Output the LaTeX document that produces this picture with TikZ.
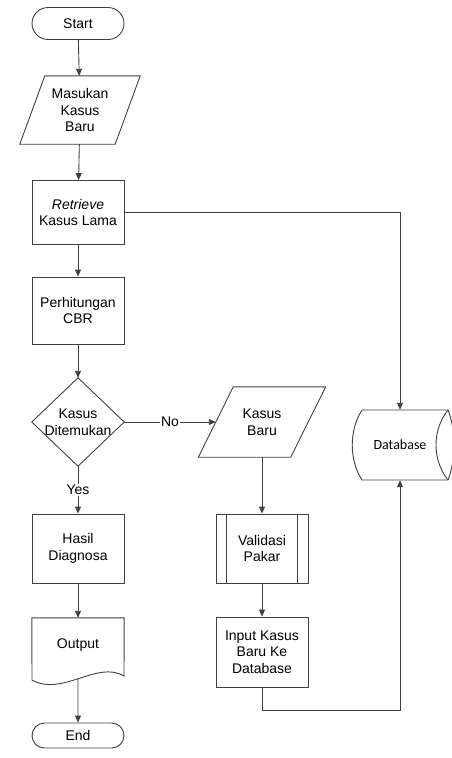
\documentclass[tikz,border=0pt]{standalone}
\usepackage{fontspec}
\setmainfont{Liberation Sans}
\newfontfamily\dbfont{Carlito}
\usetikzlibrary{shapes.misc,arrows.meta}
\definecolor{ln}{HTML}{404040}
\tikzset{
  every node/.style={font=\fontsize{14}{16.5}\selectfont, text=black},
  box/.style={draw=ln, line width=0.9pt, minimum width=92pt, minimum height=67pt, align=center, inner sep=0pt},
  term/.style={draw=ln, line width=0.9pt, rounded rectangle, minimum width=92pt, inner sep=0pt},
  txt/.style={align=center, inner sep=0pt},
  shp/.style={draw=ln, line width=0.9pt},
  arr/.style={draw=ln, line width=0.9pt, -{Triangle[length=7pt,width=6pt]}},
  lbl/.style={fill=white, inner sep=1pt}
}
\begin{document}
\begin{tikzpicture}[x=1pt,y=1pt]
\useasboundingbox (0,0) rectangle (452,-758);
% left column
\node[term, minimum height=32pt] (start) at (78,-23.5) {Start};
\node[txt, minimum width=95pt, minimum height=68pt] (in1) at (80,-110) {Masukan\\Kasus\\Baru};
\draw[shp] ([xshift=12.5pt]in1.north west) -- ([xshift=12.5pt]in1.north east)
  -- ([xshift=-12.5pt]in1.south east) -- ([xshift=-12.5pt]in1.south west) -- cycle;
\node[box, minimum height=64pt] (ret) at (78,-212.5) {\textit{Retrieve}\\Kasus Lama};
\node[box, minimum height=67pt] (cbr) at (78,-310.5) {Perhitungan\\CBR};
\node[txt, minimum width=92pt, minimum height=88pt] (dec) at (78,-422) {Kasus\\Ditemukan};
\draw[shp] (dec.north) -- (dec.east) -- (dec.south) -- (dec.west) -- cycle;
\node[box, minimum height=69pt] (hasil) at (78,-548.5) {Hasil\\Diagnosa};
\node[txt, minimum width=92pt, minimum height=54pt] (out) at (78,-645) {Output};
\draw[shp] (out.north west) -- (out.north east) -- (124,-676)
  .. controls (97,-660) and (62,-697) .. (32,-680) -- cycle;
\coordinate (outb) at (78,-678);
\node[term, minimum height=25pt] (end) at (78,-735.5) {End};
% middle column
\node[txt, minimum width=92pt, minimum height=70pt] (kb) at (262,-422) {Kasus\\Baru};
\draw[shp] ([xshift=17.5pt]kb.north west) -- ([xshift=17.5pt]kb.north east)
  -- ([xshift=-17.5pt]kb.south east) -- ([xshift=-17.5pt]kb.south west) -- cycle;
\node[box, minimum height=69pt] (val) at (262,-548.5) {Validasi\\Pakar};
\draw[shp] ([xshift=11pt]val.north west) -- ([xshift=11pt]val.south west);
\draw[shp] ([xshift=-11pt]val.north east) -- ([xshift=-11pt]val.south east);
\node[box, minimum height=70pt] (inp) at (262,-652) {Input Kasus\\Baru Ke\\Database};
% database
\node[txt, minimum width=76pt, minimum height=70pt, font=\dbfont\fontsize{14}{16}\selectfont] (db) at (400,-445) {Database};
\draw[shp] (362,-410) -- (448,-410) .. controls (456,-430) and (456,-460) .. (448,-480)
  -- (362,-480) .. controls (349,-460) and (349,-430) .. (362,-410);
\draw[shp] (448,-410) .. controls (432,-430) and (432,-460) .. (448,-480);
% connectors
\draw[arr] (start) -- (in1);
\draw[arr] (in1) -- (ret);
\draw[arr] (ret) -- (cbr);
\draw[arr] (cbr) -- (dec.north);
\draw[arr] (dec.south) -- node[lbl]{Yes} (hasil);
\draw[arr] (dec.east) -- node[lbl]{No} (kb.west);
\draw[arr] (hasil) -- (out.north);
\draw[arr] (outb) -- (end);
\draw[arr] (kb.south) -- (val);
\draw[arr] (val) -- (inp);
\draw[arr] (ret.east) -| (db.north);
\draw[arr] (inp.south) -- ([yshift=-23pt]inp.south) -| (db.south);
\end{tikzpicture}
\end{document}
